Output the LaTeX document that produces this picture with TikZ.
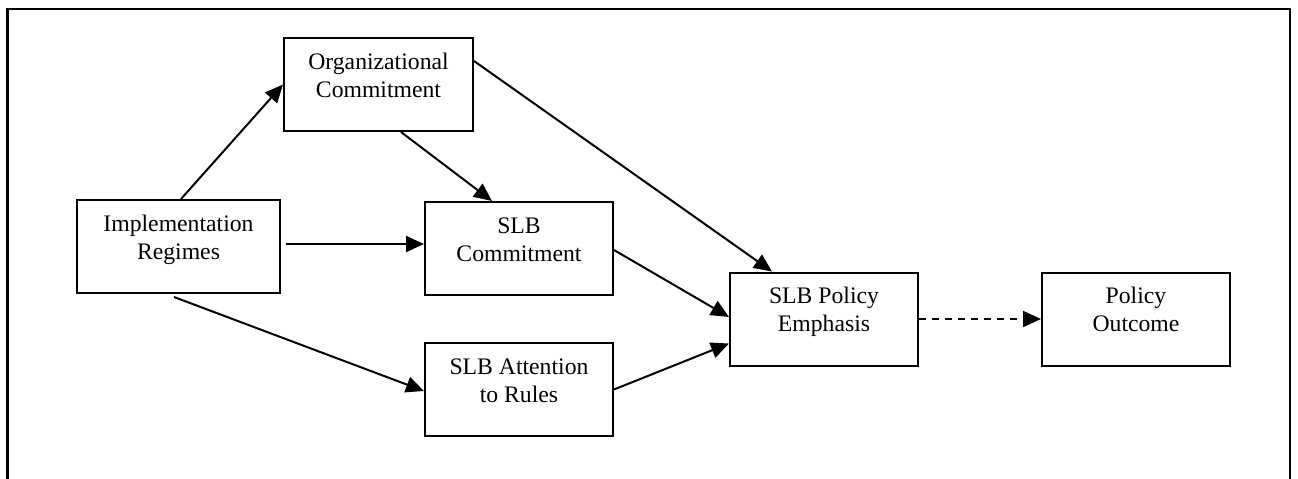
\documentclass[tikz,border=0pt]{standalone}
\usepackage{fontspec}
\setmainfont{Liberation Serif}
\usetikzlibrary{arrows.meta}
\begin{document}
\begin{tikzpicture}[x=0.5pt,y=-0.5pt,
  box/.style={draw, line width=1pt, minimum height=46.5pt, minimum width=94pt, inner sep=0pt},
  lbl/.style={anchor=north, align=center, inner sep=0pt, font=\fontsize{11.85}{14}\selectfont},
  conn/.style={line width=1pt, -{Triangle[length=9pt,width=8pt]}},
  dashconn/.style={conn, dash pattern=on 3.5pt off 3pt},
]
\useasboundingbox (0,0) rectangle (1298,478);
\draw[line width=1.1pt] (7.5,480) -- (7.5,9) -- (1290,9) -- (1290,480);

\node[box, minimum width=94.5pt] (org) at (378.5,84.5) {};
\node[box, minimum width=101.5pt] (impl) at (178.5,246.5) {};
\node[box] (slbc) at (519,248.5) {};
\node[box] (slba) at (519,389.5) {};
\node[box] (emph) at (824,319) {};
\node[box] (outc) at (1136,319) {};

\node[lbl] (orgT) at (378.5,53) {Organizational\\Commitment};
\node[lbl] (implT) at (178.5,215) {Implementation\\Regimes};
\node[lbl] (slbcT) at (519,217) {SLB\\Commitment};
\node[lbl] (slbaT) at (519,358) {SLB Attention\\to Rules};
\node[lbl] (emphT) at (824,287) {SLB Policy\\Emphasis};
\node[lbl] (outcT) at (1136,287) {Policy\\Outcome};

\draw[conn] ([xshift=52.5pt]impl.north west) -- (org.west);
\draw[conn] ([xshift=59pt]org.south west) -- ([xshift=34pt]slbc.north west);
\draw[conn] ([yshift=-12pt]org.north east) -- ([xshift=21.5pt]emph.north west);
\draw[conn] ([xshift=2.5pt,yshift=1.25pt]impl.east) -- ([yshift=2.25pt]slbc.west);
\draw[conn] ([xshift=49pt,yshift=-1.5pt]impl.south west) -- ([yshift=-0.75pt]slba.west);
\draw[conn] ([yshift=-0.75pt]slbc.east) -- ([yshift=1pt]emph.west);
\draw[conn] (slba.east) -- ([yshift=11.5pt]emph.south west);
\draw[dashconn] (emph.east) -- (outc.west);
\end{tikzpicture}
\end{document}
